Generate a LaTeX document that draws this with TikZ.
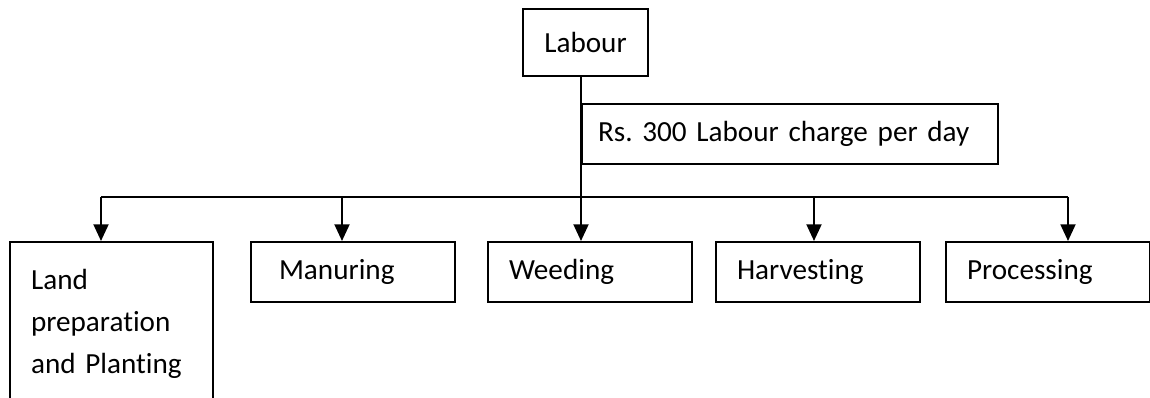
\documentclass[tikz,border=0pt]{standalone}
\usepackage{fontspec}
\setmainfont{Carlito}[Ligatures=NoCommon]
\usetikzlibrary{arrows.meta}

\newcommand\diagfont{\fontsize{16.6}{24}\selectfont\spaceskip=0.23em\relax}

\tikzset{
	box/.style={draw, line width=1.2pt, anchor=north west, align=left, inner xsep=0.42cm, text width=3.24cm, minimum height=1.2cm},
	arr/.style={-{Triangle[length=9.5pt,width=8.5pt]}, line width=1.2pt},
}

\begin{document}
\frenchspacing
\begin{tikzpicture}[x=0.02cm, y=-0.02cm, line width=1.2pt, font=\diagfont]
		\useasboundingbox (0, 0) rectangle (1150, 398);

		\node[draw, minimum width=2.5cm, minimum height=1.34cm] (labour) at (585.5, 42.5) {Labour};
		\node[box, inner xsep=0.32cm, text width=7.68cm] (charge) at (581, 103) {Rs. 300 Labour charge per day};

		\node[box, text width=3.22cm, inner ysep=0.54cm] (land) at (9, 241) {Land\\preparation\\and Planting\\\mbox{}};
		\node[box, inner xsep=0.56cm, text width=2.96cm] (manuring) at (250, 241) {Manuring};
		\node[box] (weeding) at (487, 241) {Weeding};
		\node[box] (harvesting) at (715, 241) {Harvesting};
		\node[box] (processing) at (945, 241) {Processing};

		\coordinate (bus) at (581, 197);
		\coordinate (busL) at (101, 197);
		\coordinate (busM) at (342, 197);
		\coordinate (busH) at (814, 197);
		\coordinate (busR) at (1068, 197);

		\draw (labour.south -| bus) -- (bus);
		\draw (busL) -- (busR);
		\draw[arr] (busL) -- (busL |- land.north);
		\draw[arr] (busM) -- (busM |- manuring.north);
		\draw[arr] (bus) -- (bus |- weeding.north);
		\draw[arr] (busH) -- (busH |- harvesting.north);
		\draw[arr] (busR) -- (busR |- processing.north);
	\end{tikzpicture}
\end{document}
